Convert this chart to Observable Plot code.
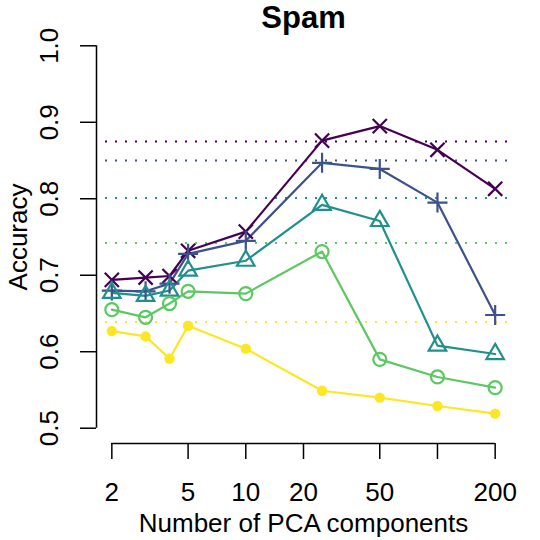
<!DOCTYPE html>
<html>
<head>
<meta charset="utf-8">
<script src="https://cdn.jsdelivr.net/npm/d3@7"></script>
<script src="https://cdn.jsdelivr.net/npm/@observablehq/plot@0.6"></script>
<style>
  html, body { margin: 0; padding: 0; background: #fff; }
</style>
</head>
<body>
<div id="chart"></div>
<script>
// ---- data ----
const components = [2, 3, 4, 5, 10, 25, 50, 100, 200];
const seriesNames = ["A", "B", "C", "D", "E"];
const seriesColors = ["#440154", "#3B528B", "#21908C", "#5DC863", "#FDE725"];
const seriesSymbols = ["times", "plus", "triangle", "circle", "circle"];
const accA = [0.694, 0.697, 0.699, 0.732, 0.757, 0.876, 0.895, 0.864, 0.813];
const accB = [0.680, 0.679, 0.689, 0.728, 0.745, 0.847, 0.839, 0.795, 0.648];
const accC = [0.677, 0.673, 0.680, 0.706, 0.719, 0.792, 0.771, 0.608, 0.597];
const accD = [0.655, 0.645, 0.663, 0.679, 0.676, 0.731, 0.590, 0.567, 0.553];
const accE = [0.627, 0.620, 0.591, 0.634, 0.604, 0.549, 0.540, 0.529, 0.519];
const baselines = [0.875, 0.850, 0.801, 0.742, 0.639];
const xTicks = [2, 5, 10, 20, 50, 100, 200];
const xTickLabels = ["2", "5", "10", "20", "50", "", "200"];
const yTicks = [0.5, 0.6, 0.7, 0.8, 0.9, 1.0];
const yTickLabels = ["0.5", "0.6", "0.7", "0.8", "0.9", "1.0"];
const titleText = "Spam";
const xTitle = "Number of PCA components";
const yTitle = "Accuracy";

// ---- build table ----
const accs = [accA, accB, accC, accD, accE];
const rows = [];
seriesNames.forEach((s, i) => {
  components.forEach((c, j) => rows.push({series: s, x: c, y: accs[i][j]}));
});
const baseRows = seriesNames.map((s, i) => ({series: s, y: baselines[i]}));

// R-style 4% padding of axis ranges
const lx0 = Math.log10(d3.min(components)), lx1 = Math.log10(d3.max(components));
const px = (lx1 - lx0) * 0.04;
const xDomain = [10 ** (lx0 - px), 10 ** (lx1 + px)];
const y0 = yTicks[0], y1 = yTicks[yTicks.length - 1];
const py = (y1 - y0) * 0.04;
const yDomain = [y0 - py, y1 + py];

const FS = 26;
const font = "Liberation Sans, Arial, Helvetica, sans-serif";

const chart = Plot.plot({
  width: 540,
  height: 540,
  marginLeft: 96,
  marginRight: 30,
  marginTop: 30,
  marginBottom: 97,
  style: {fontFamily: font, background: "#fff", color: "#000"},
  x: {type: "log", domain: xDomain},
  y: {domain: yDomain},
  color: {domain: seriesNames, range: seriesColors},
  symbol: {domain: seriesNames, range: seriesSymbols},
  marks: [
    // baseline dotted lines
    Plot.ruleY(baseRows, {y: "y", stroke: "series", strokeWidth: 2, strokeDasharray: "2,8", strokeDashoffset: 1}),
    // lines
    Plot.line(rows, {x: "x", y: "y", stroke: "series", z: "series", strokeWidth: 2.2}),
    // open symbols
    Plot.dot(rows.filter(d => d.series !== "E"), {x: "x", y: "y", stroke: "series", symbol: "series", r: 6.5, strokeWidth: 2.2, fill: "none"}),
    // filled dots
    Plot.dot(rows.filter(d => d.series === "E"), {x: "x", y: "y", fill: "series", r: 5.2, stroke: null}),
    // x axis
    Plot.ruleY([yDomain[0]], {x1: xTicks[0], x2: xTicks[xTicks.length - 1], strokeWidth: 1.5}),
    Plot.axisX({ticks: xTicks, tickSize: 16, tickPadding: 23, fontSize: FS, strokeWidth: 1.5,
      tickFormat: d => xTickLabels[xTicks.indexOf(d)], label: null}),
    Plot.text([xTitle], {frameAnchor: "bottom", dy: 80.5, lineAnchor: "middle", textAnchor: "middle", fontSize: FS, text: d => d}),
    // y axis
    Plot.ruleX([xDomain[0]], {y1: y0, y2: y1, strokeWidth: 1.5}),
    Plot.axisY({ticks: yTicks, tickSize: 16, tickFormat: () => "", label: null, strokeWidth: 1.5}),
    Plot.text(yTicks, {y: d => d, text: (d, i) => yTickLabels[i], frameAnchor: "left", dx: -47, rotate: -90,
      textAnchor: "middle", lineAnchor: "middle", fontSize: FS}),
    Plot.text([yTitle], {frameAnchor: "left", dx: -78, rotate: -90, textAnchor: "middle", lineAnchor: "middle", fontSize: FS, text: d => d}),
    // title
    Plot.text([titleText], {frameAnchor: "top", dy: -12.5, lineAnchor: "middle", textAnchor: "middle", fontSize: 31, fontWeight: "bold", text: d => d})
  ]
});
document.getElementById("chart").appendChild(chart);
</script>
</body>
</html>
